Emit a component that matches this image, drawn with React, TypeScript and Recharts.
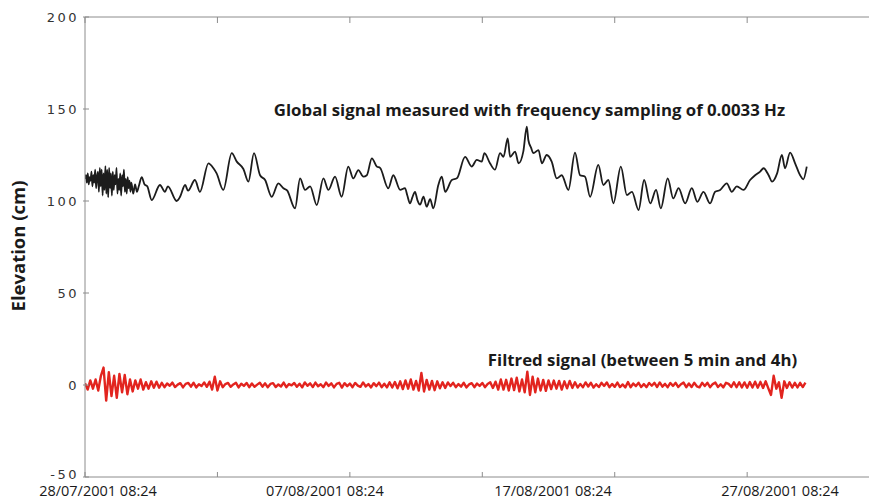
import { Line, LineChart, XAxis, YAxis } from "recharts";

// time axis in days since 28/07/2001 08:24
const X_DOMAIN: [number, number] = [0, 29.6];
const TICK_DAYS = [0, 5, 10, 15, 20, 25];
const LABEL_DAYS = [0.49, 9.06, 17.67, 26.24];
const LABELS = [
  "28/07/2001 08:24",
  "07/08/2001 08:24",
  "17/08/2001 08:24",
  "27/08/2001 08:24",
];
const Y_TICKS = [-50, 0, 50, 100, 150, 200];

// global signal: [day, elevation cm]
const GLOBAL: [number, number][] = [
  [0.0, 112], [0.035, 114], [0.07, 110], [0.105, 115], [0.14, 109], [0.175, 113],
  [0.21, 111], [0.245, 116], [0.28, 108], [0.315, 114], [0.35, 110], [0.385, 117],
  [0.42, 107], [0.455, 113], [0.49, 116], [0.525, 105], [0.56, 118], [0.595, 108],
  [0.63, 117], [0.665, 103], [0.7, 115], [0.735, 106], [0.77, 119], [0.805, 104],
  [0.84, 117], [0.875, 102], [0.91, 118], [0.945, 107], [0.98, 115], [1.015, 103],
  [1.05, 116], [1.085, 106], [1.12, 114], [1.155, 109], [1.19, 118], [1.225, 104],
  [1.26, 112], [1.295, 106], [1.33, 115], [1.365, 103], [1.4, 114], [1.435, 108],
  [1.47, 117], [1.505, 105], [1.54, 112], [1.575, 104], [1.61, 113], [1.645, 107],
  [1.68, 111], [1.715, 105], [1.75, 110], [1.82, 104], [1.89, 109], [1.96, 105],
  [2.03, 108], [2.14, 113], [2.25, 109], [2.35, 108], [2.52, 100.5], [2.83, 108.7],
  [3.02, 105], [3.13, 108], [3.46, 100], [3.59, 102.3], [3.78, 108.7], [3.89, 105.6],
  [4.15, 111.4], [4.34, 105], [4.66, 120.5], [4.85, 117.8], [4.97, 115], [5.22, 106],
  [5.54, 126], [5.73, 121.4], [5.98, 117.4], [6.17, 110.5], [6.38, 126], [6.61, 114],
  [6.8, 111.4], [7.05, 102.3], [7.3, 109.6], [7.49, 106.9], [7.63, 105.8], [7.93, 96],
  [8.12, 112.3], [8.31, 106], [8.5, 108], [8.75, 97.8], [9.0, 112.3], [9.19, 106],
  [9.44, 113.2], [9.69, 102.3], [9.94, 118.7], [10.13, 112.3], [10.32, 116.8], [10.51, 113.2],
  [10.64, 114], [10.83, 123.2], [11.02, 118.7], [11.14, 118], [11.45, 106.9], [11.64, 114],
  [11.9, 106], [12.08, 107], [12.17, 103], [12.27, 98.7], [12.36, 102], [12.46, 105],
  [12.55, 100.5], [12.65, 98], [12.78, 102.3], [12.9, 96.9], [13.03, 101], [13.15, 96],
  [13.34, 108.7], [13.47, 113.2], [13.6, 105], [13.85, 111.4], [14.04, 112.3], [14.35, 124],
  [14.6, 118.7], [14.79, 122.3], [14.98, 121.4], [15.08, 126], [15.29, 120.5], [15.48, 117],
  [15.67, 126], [15.8, 124], [15.96, 134], [16.05, 124], [16.24, 126.8], [16.37, 120.5],
  [16.55, 127], [16.68, 140.4], [16.74, 133], [16.84, 129], [16.93, 126], [17.12, 127.7],
  [17.25, 120.5], [17.43, 125], [17.62, 121.4], [17.81, 112.3], [18.0, 114], [18.25, 106],
  [18.5, 126.3], [18.69, 114], [18.88, 113.2], [19.07, 102.3], [19.38, 119.6], [19.57, 108.7],
  [19.76, 111.4], [19.95, 98.7], [20.23, 118.7], [20.46, 103.2], [20.65, 105], [20.9, 95.1],
  [21.11, 111.4], [21.34, 98.7], [21.56, 106], [21.74, 96], [22.0, 112.3], [22.21, 101.4],
  [22.41, 107], [22.66, 98.7], [22.91, 107], [23.12, 99.6], [23.35, 105], [23.6, 98.7],
  [23.79, 105], [23.98, 106], [24.23, 109.6], [24.42, 105], [24.61, 108], [24.86, 106],
  [25.11, 111.4], [25.3, 114], [25.49, 116], [25.62, 117.8], [25.81, 114], [25.94, 110.5],
  [26.13, 115], [26.31, 125], [26.43, 117.8], [26.62, 126.3], [26.81, 120.5], [27.0, 114],
  [27.12, 111.8], [27.25, 118.7],
];

// filtered signal, one value every 0.1 day from day 0 (one row per day)
const FILTERED_STEP = 0.1;
const FILTERED = [
  1, -2.5, 2.5, -2, 3, -3, 5, 9.5, -8.5, 7,
  -6, 5, -7, 6, -4, 5.5, -5, 3, -3.5, 2.5,
  -2, 3, -2.5, 1.5, -2, 2, -1.5, 1.8, -1.5, 1.2,
  -1.2, 0.8, -0.4, 1.3, -1.1, 0.2, 1.0, -1.3, 0.6, 1.1,
  -0.9, 1.2, -1.3, 0.4, -0.6, 1.4, -1.0, 1.8, -2.5, 4.5,
  -3, 2, -1.2, 0.5, 1.1, -1.0, 0.3, 1.2, -1.3, 0.7,
  -0.5, 1.1, -1.2, 0.8, -1.0, 0.2, 1.2, -0.9, 0.9, -1.2,
  0.6, 1.0, -1.1, 0.3, -0.8, 1.3, -1.2, 0.5, -0.2, 1.1,
  -1.0, 0.7, -1.3, 1.4, -0.4, 0.9, -1.1, 1.3, -0.7, 0.4,
  -1.2, 1.3, -0.5, 0.9, -1.3, 0.6, 1.2, -1.4, 1.0, -0.6,
  0.8, -1.2, 1.1, -0.3, -1.0, 1.4, -0.8, 0.5, -1.3, 1.0,
  -0.6, 1.3, -1.2, 0.7, -1.3, 1.5, -1.4, 1.6, -1.8, 2,
  -2.2, 2.5, -2, 3, -2.5, 2.2, -3, 6.5, -3.5, 2.8,
  -2.5, 2.2, -2.8, 2, -1.8, 1.5, -1.6, 1.4, -0.6, 1.2,
  -1.2, 0.5, -0.9, 1.2, -1.3, 0.3, 1.0, -1.2, 0.8, -0.5,
  1.1, -1.2, 0.6, 1.5, -1.6, 1.8, -2.5, 3, -2.5, 2.8,
  -3, 3.5, -2.8, 4, -3.5, 3, -4, 7.2, -5.4, 4.5,
  -4, 3.5, -3, 2.8, -3.2, 2.5, -2.2, 2.4, -2, 2.2,
  -2.5, 2, -1.8, 2.2, -1.6, 1.5, -1.4, 0.6, -1.2, 1.4,
  -0.8, 1.2, -1.4, 0.4, -1.1, 1.2, -0.5, 1.4, -1.2, 0.6,
  -1.0, 1.3, -1.1, 0.3, -1.3, 1.6, -1.2, 0.8, -0.6, 1.2,
  -1.1, 0.5, -1.2, 1.1, -0.4, 1.2, -1.1, 1.4, -0.9, 0.6,
  -1.2, 1.1, -0.5, 1.2, -1.1, 0.4, 1.3, -1.2, 0.8, -1.1,
  1.2, -0.7, -1.3, 1.2, -0.6, 1.2, -1.2, 0.5, 1.3, -1.1,
  0.4, -1.3, 1.2, 0.6, -1.1, 1.5, -1.2, 1.5, -1.3, 1.4,
  -1.5, 1.6, -1.4, 1.8, -1.5, 1.7, -1.6, 2, -1.8, -5.4,
  5, -2, 1.5, -7, 2, -1.6, 1.5, -1.4, 1.2, -1.3,
  1.2, -1.1, 1.3,
];

const globalData = GLOBAL.map(([t, v]) => ({ t, v }));
const filteredData = FILTERED.map((v, i) => ({ t: +(i * FILTERED_STEP).toFixed(2), v }));
const X_TICKS = [...TICK_DAYS, ...LABEL_DAYS].sort((a, b) => a - b);

const AXIS = "#8c8c8c";
const TEXT = "#1a1a1a";
const PLOT_H = 460;

// bottom axis: inward tick marks (bottom and top frame) + date labels
function XTick(props: any) {
  const { x, y, payload } = props;
  const v = payload.value;
  const li = LABEL_DAYS.indexOf(v);
  const isTick = TICK_DAYS.includes(v);
  return (
    <g>
      {isTick && <line x1={x} x2={x} y1={y} y2={y - 5} stroke={AXIS} />}
      {isTick && <line x1={x} x2={x} y1={y - PLOT_H} y2={y - PLOT_H + 6} stroke={AXIS} />}
      {li >= 0 && (
        <text x={x} y={y + 19} textAnchor="middle" fill={TEXT} fontSize={14.5} fontFamily="Open Sans">
          {LABELS[li]}
        </text>
      )}
    </g>
  );
}

function YTick(props: any) {
  const { x, y, payload } = props;
  // lowest label sits a little higher so it clears the date labels
  const ty = payload.value === Y_TICKS[0] ? y - 3 : y;
  return (
    <g>
      <line x1={x - 2} x2={x + 4} y1={y} y2={y} stroke={AXIS} />
      <text
        x={x - 6}
        y={ty}
        dy="0.355em"
        textAnchor="end"
        fill="#333"
        fontSize={13}
        fontFamily="DejaVu Sans"
        letterSpacing={2.5}
      >
        {payload.value}
      </text>
    </g>
  );
}

export default function App() {
  return (
    <div style={{ position: "absolute", left: 0, top: 0, width: 869, height: 499, background: "#fff" }}>
      <LineChart width={869} height={499} margin={{ top: 17, right: 0, bottom: 0, left: 0 }}>
        <XAxis
          xAxisId="x"
          type="number"
          dataKey="t"
          domain={X_DOMAIN}
          allowDataOverflow
          ticks={X_TICKS}
          interval={0}
          tickLine={false}
          tickSize={0}
          tickMargin={0}
          height={22}
          stroke={AXIS}
          tick={<XTick />}
        />
        <XAxis
          xAxisId="top"
          orientation="top"
          type="number"
          domain={X_DOMAIN}
          allowDataOverflow
          mirror
          tick={false}
          tickLine={false}
          stroke={AXIS}
        />
        <YAxis
          yAxisId="y"
          type="number"
          domain={[-50, 200]}
          ticks={Y_TICKS}
          interval={0}
          width={85}
          tickLine={false}
          tickSize={0}
          tickMargin={0}
          stroke={AXIS}
          tick={<YTick />}
        />
        <Line
          xAxisId="x"
          yAxisId="y"
          data={filteredData}
          dataKey="v"
          type="linear"
          stroke="#e2241f"
          strokeWidth={2.4}
          strokeLinejoin="round"
          dot={false}
          isAnimationActive={false}
        />
        <Line
          xAxisId="x"
          yAxisId="y"
          data={globalData}
          dataKey="v"
          type="monotone"
          stroke="#1c1c1c"
          strokeWidth={1.8}
          dot={false}
          isAnimationActive={false}
        />
      </LineChart>
      <svg width={869} height={499} style={{ position: "absolute", left: 0, top: 0, pointerEvents: "none" }}>
        <g fontFamily="Open Sans" fontWeight="bold" fill={TEXT}>
          <text x={529.5} y={116} fontSize={16.8} textAnchor="middle">
            Global signal measured with frequency sampling of 0.0033 Hz
          </text>
          <text x={642.5} y={366} fontSize={16.8} textAnchor="middle">
            Filtred signal (between 5 min and 4h)
          </text>
          <text transform="translate(25 246) rotate(-90)" fontSize={18.5} textAnchor="middle">
            Elevation (cm)
          </text>
        </g>
      </svg>
    </div>
  );
}
